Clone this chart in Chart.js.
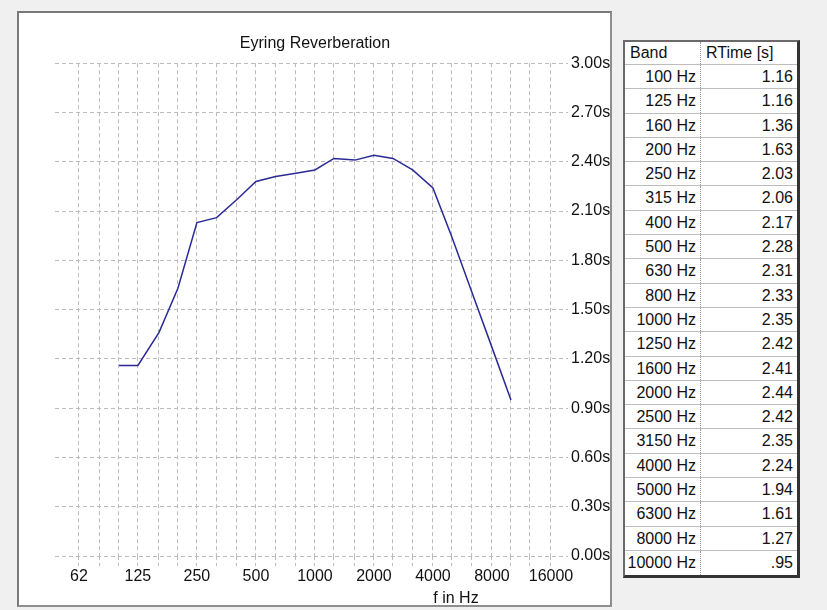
<!DOCTYPE html>
<html>
<head>
<meta charset="utf-8">
<script src="https://cdn.jsdelivr.net/npm/chart.js@4.4.1/dist/chart.umd.min.js"></script>
<style>
  html, body { margin: 0; padding: 0; }
  body {
    width: 827px; height: 610px; overflow: hidden; position: relative;
    background: #f0f0f0; font-family: "Liberation Sans", Arial, sans-serif;
  }
  #panel {
    position: absolute; left: 17px; top: 11px; width: 595px; height: 596px;
    box-sizing: border-box; background: #fff;
    border: 2px solid #7a7a7a; border-right-color: #8e8e8e; border-bottom-color: #8e8e8e;
  }
  #chart { position: absolute; left: 18px; top: 12px; }
  #xTitle {
    position: absolute; left: 406px; top: 588px; width: 100px;
    text-align: center; font-size: 16px; line-height: 19px; color: #111;
  }
  #bandTable {
    position: absolute; left: 623px; top: 40px; width: 177px;
    box-sizing: border-box; background: #fff; font-size: 16px; color: #111;
    border-top: 2px solid #6a6a6a; border-left: 2px solid #6a6a6a;
    border-right: 3px solid #333; border-bottom: 3px solid #333;
  }
  .row { display: flex; height: 24.3px; box-sizing: border-box; border-bottom: 1px solid #bdbdbd; line-height: 23px; }
  .row.head { height: 23px; line-height: 22px; }
  .row:last-child { border-bottom: none; }
  .c1 { width: 76px; box-sizing: border-box; border-right: 1px dotted #9a9a9a; text-align: right; padding-right: 4px; }
  .c2 { flex: 1; text-align: right; padding-right: 4px; }
  .head .c1, .head .c2 { text-align: left; padding-left: 5px; }
</style>
</head>
<body>
<div id="panel"></div>
<canvas id="chart" width="594" height="595"></canvas>
<div id="xTitle">f in Hz</div>
<div id="bandTable"></div>

<script>
// --- Data ---
const bands = [100, 125, 160, 200, 250, 315, 400, 500, 630, 800, 1000,
               1250, 1600, 2000, 2500, 3150, 4000, 5000, 6300, 8000, 10000];
const rtimes = [1.16, 1.16, 1.36, 1.63, 2.03, 2.06, 2.17, 2.28, 2.31, 2.33, 2.35,
                2.42, 2.41, 2.44, 2.42, 2.35, 2.24, 1.94, 1.61, 1.27, 0.95];

// third-octave gridlines, labels only on octaves
const gridFreqs = [62.5, 80, 100, 125, 160, 200, 250, 315, 400, 500, 630, 800, 1000,
                   1250, 1600, 2000, 2500, 3150, 4000, 5000, 6300, 8000, 10000, 12500, 16000];
const octaveFreqs = [62.5, 125, 250, 500, 1000, 2000, 4000, 8000, 16000];
const octaveLabels = ["62", "125", "250", "500", "1000", "2000", "4000", "8000", "16000"];
const yTicks = [0, 0.3, 0.6, 0.9, 1.2, 1.5, 1.8, 2.1, 2.4, 2.7, 3.0];

const GRID = "#bcbcbc";
const FONT = { family: "'Liberation Sans', Arial, sans-serif", size: 16 };

// --- Table ---
function fmtTime(v) {
  const s = v.toFixed(2);
  return v < 1 ? s.slice(1) : s;
}

function buildTable() {
  const tbl = document.getElementById("bandTable");
  let html = '<div class="row head"><div class="c1">Band</div><div class="c2">RTime [s]</div></div>';
  bands.forEach((b, i) => {
    html += `<div class="row"><div class="c1">${b} Hz</div><div class="c2">${fmtTime(rtimes[i])}</div></div>`;
  });
  tbl.innerHTML = html;
}

// --- Chart ---
function initChart() {
  const ctx = document.getElementById("chart").getContext("2d");
  new Chart(ctx, {
    type: "line",
    data: {
      datasets: [{
        data: bands.map((f, i) => ({ x: f, y: rtimes[i] })),
        borderColor: "#2a2a96",
        borderWidth: 1.5,
        pointRadius: 0,
        tension: 0,
        fill: false
      }]
    },
    options: {
      responsive: false,
      animation: false,
      devicePixelRatio: 1,
      layout: { padding: 0 },
      plugins: {
        legend: { display: false },
        tooltip: { enabled: false },
        title: {
          display: true,
          text: "Eyring Reverberation",
          color: "#111",
          font: { ...FONT, weight: "normal" },
          padding: { top: 22, bottom: 10 }
        }
      },
      scales: {
        x: {
          type: "logarithmic",
          min: 47.2,
          max: 19540,
          afterBuildTicks: (s) => { s.ticks = gridFreqs.map(v => ({ value: v })); },
          afterFit: (s) => { s.height = 51; },
          grid: {
            color: GRID,
            tickColor: GRID,
            tickLength: 10,
            tickBorderDash: [4, 3]
          },
          border: { display: false, dash: [4, 3] },
          ticks: {
            autoSkip: false,
            maxRotation: 0,
            padding: 1,
            color: "#111",
            font: FONT,
            callback: (value) => {
              const idx = octaveFreqs.indexOf(value);
              return idx >= 0 ? octaveLabels[idx] : "";
            }
          }
        },
        y: {
          position: "right",
          min: 0,
          max: 3,
          afterBuildTicks: (s) => { s.ticks = yTicks.map(v => ({ value: v })); },
          afterFit: (s) => { s.width = 44; },
          grid: { color: GRID, drawTicks: false },
          border: { display: false, dash: [4, 3] },
          ticks: {
            padding: 3,
            color: "#111",
            font: FONT,
            callback: (value) => value.toFixed(2) + "s"
          }
        },
        // empty left margin so the title centres over the whole panel
        yMargin: {
          type: "linear",
          position: "left",
          afterFit: (s) => { s.width = 37; },
          grid: { display: false },
          border: { display: false },
          ticks: { display: false }
        }
      }
    }
  });
}

buildTable();
initChart();
</script>
</body>
</html>
